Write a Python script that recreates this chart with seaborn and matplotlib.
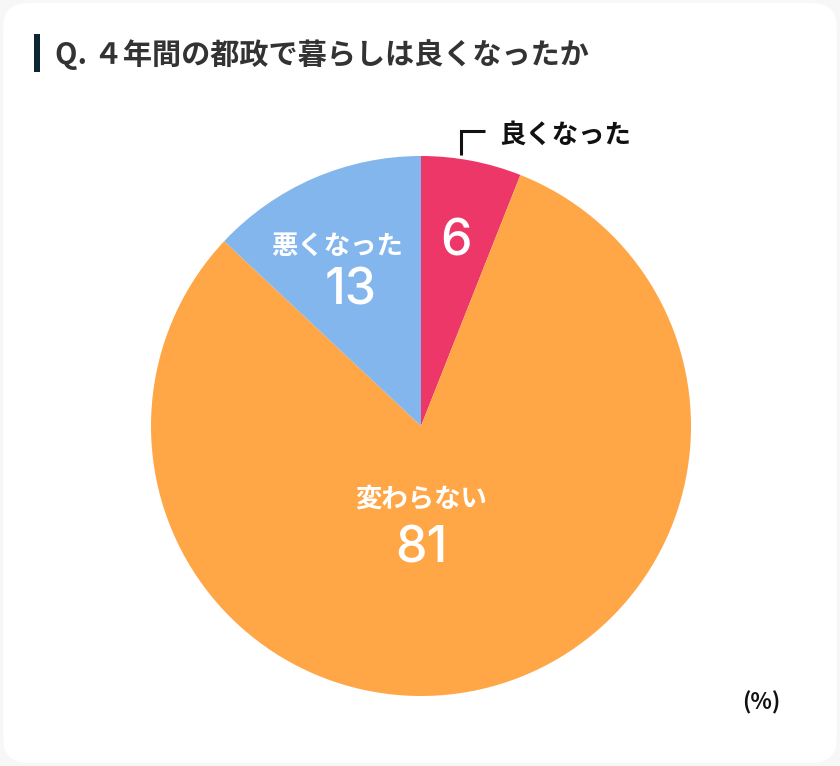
import matplotlib
matplotlib.use("Agg")
import matplotlib.pyplot as plt
import seaborn as sns
from matplotlib.patches import FancyBboxPatch, Rectangle

# data
labels = ["良くなった", "変わらない", "悪くなった"]
values = [6, 81, 13]
colors = ["#EC3768", "#FFA646", "#84B6EE"]
title = "Q. ４年間の都政で暮らしは良くなったか"
unit = "(%)"

sns.set_theme(style="white")
plt.rcParams["font.family"] = ["Noto Sans CJK JP", "DejaVu Sans"]
num_font = ["Inter", "DejaVu Sans"]

W, H = 840, 766
fig = plt.figure(figsize=(W / 100, H / 100), dpi=100, facecolor="#f7f7f7")

# white rounded card behind everything
card = FancyBboxPatch((0.004, 0.004), 0.992, 0.992, boxstyle="round,pad=0,rounding_size=0.03",
                      transform=fig.transFigure, facecolor="white", edgecolor="none", zorder=-5)
fig.patches.append(card)

# title with accent bar
fig.patches.append(Rectangle((34 / W, 1 - 72 / H), 6 / W, 38 / H, transform=fig.transFigure,
                             facecolor="#0d2633", edgecolor="none", zorder=-4))
fig.text(55 / W, 1 - 55 / H, title, fontsize=21, fontweight="bold", color="#333333",
         va="center", ha="left")

# pie: centre (421, 426) px, radius 270 px
cx, cy, r = 421, 426, 270
ax = fig.add_axes([(cx - r) / W, 1 - (cy + r) / H, 2 * r / W, 2 * r / H], zorder=2)
ax.patch.set_alpha(0)
ax.pie(values, colors=colors, startangle=90, counterclock=False,
       wedgeprops=dict(linewidth=0))
ax.set_xlim(-1, 1)
ax.set_ylim(-1, 1)
ax.set_aspect("equal")
ax.axis("off")

# inside labels: (name pos, value pos) in pie units
inside = {
    1: ((0.0, -0.27), (0.0, -0.455)),
    2: ((-0.31, 0.665), (-0.26, 0.50)),
}
for i, ((nx, ny), (vx, vy)) in inside.items():
    ax.text(nx, ny, labels[i], color="white", fontsize=19, fontweight="bold",
            ha="center", va="center")
    ax.text(vx, vy, str(values[i]), color="white", fontsize=36, fontweight="medium",
            family=num_font, ha="center", va="center")

# small slice: value inside, name outside with bracket
ax.text(0.13, 0.68, str(values[0]), color="white", fontsize=36, fontweight="medium",
        family=num_font, ha="center", va="center")
ax.plot([0.148, 0.148, 0.237], [1.004, 1.093, 1.093], color="#111111", lw=2.2,
        clip_on=False, solid_capstyle="butt", solid_joinstyle="miter")
ax.text(0.29, 1.078, labels[0], color="#111111", fontsize=19, fontweight="bold",
        ha="left", va="center", clip_on=False)

fig.text(761 / W, 1 - 703 / H, unit, fontsize=16, fontweight="bold", color="#111111",
         ha="center", va="center")

fig.savefig("out.png", dpi=100, facecolor=fig.get_facecolor())
